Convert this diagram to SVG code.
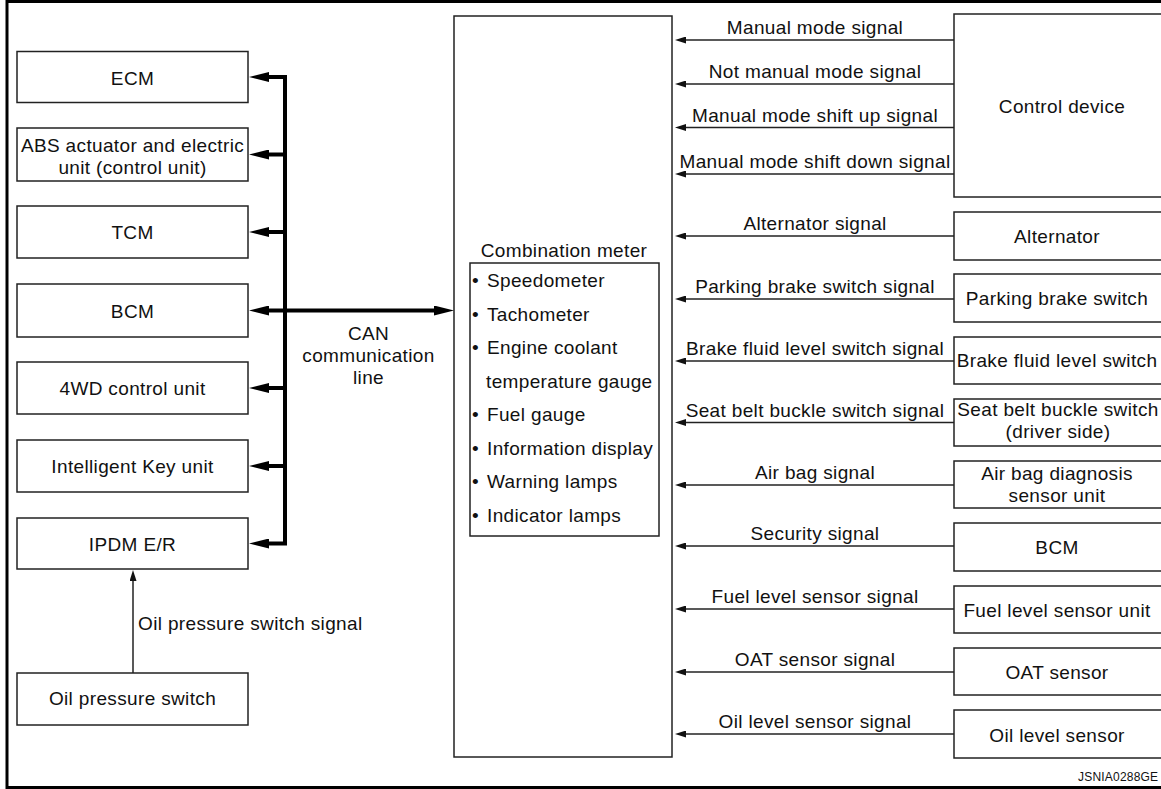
<svg xmlns="http://www.w3.org/2000/svg" width="1161" height="789" viewBox="0 0 1161 789">
<style>
text{font-family:"Liberation Sans",Arial,sans-serif;font-size:19px;letter-spacing:0.35px;fill:#111}
.c{text-anchor:middle}
.box{fill:#fff;stroke:#222;stroke-width:1.5}
.bus{fill:none;stroke:#000;stroke-width:4}
.sig{fill:none;stroke:#222;stroke-width:1.5}
.tag{font-size:12px;letter-spacing:0.2px}
</style>
<defs>
<marker id="big" viewBox="0 0 20 10" refX="2" refY="5" markerWidth="20" markerHeight="10" markerUnits="userSpaceOnUse" orient="auto-start-reverse">
<path d="M0,0 L20,5 L0,10 z" fill="#000"/>
</marker>
<marker id="small" viewBox="0 0 11 7" refX="1" refY="3.5" markerWidth="11" markerHeight="7" markerUnits="userSpaceOnUse" orient="auto">
<path d="M0,0 L11,3.5 L0,7 z" fill="#111"/>
</marker>
</defs>
<rect x="7" y="1.5" width="1165" height="786" fill="#fff" stroke="#000" stroke-width="3"/>

<g id="ecm"><rect class="box" x="17" y="51.5" width="231" height="51"/><text class="c" x="132.5" y="84.5">ECM</text></g>
<g id="abs"><rect class="box" x="17" y="128" width="231" height="53"/><text class="c" x="132.5" y="151.5">ABS actuator and electric</text><text class="c" x="132.5" y="174">unit (control unit)</text></g>
<g id="tcm"><rect class="box" x="17" y="206" width="231" height="52"/><text class="c" x="132.5" y="239">TCM</text></g>
<g id="bcm-left"><rect class="box" x="17" y="284" width="231" height="53"/><text class="c" x="132.5" y="317.5">BCM</text></g>
<g id="4wd"><rect class="box" x="17" y="362" width="231" height="52"/><text class="c" x="132.5" y="395">4WD control unit</text></g>
<g id="ikey"><rect class="box" x="17" y="440" width="231" height="52"/><text class="c" x="132.5" y="473">Intelligent Key unit</text></g>
<g id="ipdm"><rect class="box" x="17" y="518" width="231" height="51"/><text class="c" x="132.5" y="550.5">IPDM E/R</text></g>
<g id="oil-pressure-switch"><rect class="box" x="17" y="673" width="231" height="52"/><text class="c" x="132.5" y="705">Oil pressure switch</text></g>

<g id="combination-meter">
<rect class="box" x="454" y="16" width="218" height="741"/>
<text class="c" x="564" y="256.5">Combination meter</text>
<rect class="box" x="470" y="263" width="189" height="273"/>
<text x="472" y="287">•</text><text x="487" y="287">Speedometer</text>
<text x="472" y="320.5">•</text><text x="487" y="320.5">Tachometer</text>
<text x="472" y="354">•</text><text x="487" y="354">Engine coolant</text>
<text x="486" y="387.5">temperature gauge</text>
<text x="472" y="421">•</text><text x="487" y="421">Fuel gauge</text>
<text x="472" y="454.5">•</text><text x="487" y="454.5">Information display</text>
<text x="472" y="488">•</text><text x="487" y="488">Warning lamps</text>
<text x="472" y="521.5">•</text><text x="487" y="521.5">Indicator lamps</text>
</g>

<g id="control-device"><rect class="box" x="954" y="14" width="220" height="183"/><text class="c" x="1062" y="112.5">Control device</text></g>
<g id="alternator"><rect class="box" x="954" y="212" width="220" height="48"/><text class="c" x="1057" y="242.5">Alternator</text></g>
<g id="parking-brake-switch"><rect class="box" x="954" y="274" width="220" height="48"/><text class="c" x="1057" y="305">Parking brake switch</text></g>
<g id="brake-fluid-level-switch"><rect class="box" x="954" y="337" width="220" height="47"/><text class="c" x="1057" y="366.5">Brake fluid level switch</text></g>
<g id="seat-belt-buckle-switch"><rect class="box" x="954" y="399" width="220" height="47"/><text class="c" x="1058" y="415.5">Seat belt buckle switch</text><text class="c" x="1058" y="437.5">(driver side)</text></g>
<g id="air-bag"><rect class="box" x="954" y="461" width="220" height="47"/><text class="c" x="1057" y="479.5">Air bag diagnosis</text><text class="c" x="1057" y="501.5">sensor unit</text></g>
<g id="bcm-right"><rect class="box" x="954" y="523" width="220" height="48"/><text class="c" x="1057" y="553.5">BCM</text></g>
<g id="fuel-level-sensor-unit"><rect class="box" x="954" y="586" width="220" height="47"/><text class="c" x="1057" y="616.5">Fuel level sensor unit</text></g>
<g id="oat-sensor"><rect class="box" x="954" y="648" width="220" height="47"/><text class="c" x="1057" y="679">OAT sensor</text></g>
<g id="oil-level-sensor"><rect class="box" x="954" y="710" width="220" height="48"/><text class="c" x="1057" y="741.5">Oil level sensor</text></g>

<g id="connectors">
<path class="bus" d="M267,77 H285 V543.5 H267" stroke-linejoin="miter" marker-start="url(#big)" marker-end="url(#big)"/>
<line class="bus" x1="285" y1="154.5" x2="267" y2="154.5" marker-end="url(#big)"/>
<line class="bus" x1="285" y1="232" x2="267" y2="232" marker-end="url(#big)"/>
<line class="bus" x1="267" y1="310.5" x2="436" y2="310.5" marker-start="url(#big)" marker-end="url(#big)"/>
<line class="bus" x1="285" y1="388" x2="267" y2="388" marker-end="url(#big)"/>
<line class="bus" x1="285" y1="466" x2="267" y2="466" marker-end="url(#big)"/>
<text class="c" x="368.5" y="340">CAN</text>
<text class="c" x="368.5" y="362">communication</text>
<text class="c" x="368.5" y="384">line</text>

<line class="sig" x1="133" y1="673" x2="133" y2="580" marker-end="url(#small)"/>
<text x="138" y="630">Oil pressure switch signal</text>

<line class="sig" x1="954" y1="40" x2="685" y2="40" marker-end="url(#small)"/>
<text class="c" x="815" y="34">Manual mode signal</text>
<line class="sig" x1="954" y1="84" x2="685" y2="84" marker-end="url(#small)"/>
<text class="c" x="815" y="78">Not manual mode signal</text>
<line class="sig" x1="954" y1="127.5" x2="685" y2="127.5" marker-end="url(#small)"/>
<text class="c" x="815" y="121.5">Manual mode shift up signal</text>
<line class="sig" x1="954" y1="174" x2="685" y2="174" marker-end="url(#small)"/>
<text class="c" x="815" y="168">Manual mode shift down signal</text>
<line class="sig" x1="954" y1="236" x2="685" y2="236" marker-end="url(#small)"/>
<text class="c" x="815" y="230">Alternator signal</text>
<line class="sig" x1="954" y1="299" x2="685" y2="299" marker-end="url(#small)"/>
<text class="c" x="815" y="293">Parking brake switch signal</text>
<line class="sig" x1="954" y1="361" x2="685" y2="361" marker-end="url(#small)"/>
<text class="c" x="815" y="355">Brake fluid level switch signal</text>
<line class="sig" x1="954" y1="422.5" x2="685" y2="422.5" marker-end="url(#small)"/>
<text class="c" x="815" y="416.5">Seat belt buckle switch signal</text>
<line class="sig" x1="954" y1="485" x2="685" y2="485" marker-end="url(#small)"/>
<text class="c" x="815" y="479">Air bag signal</text>
<line class="sig" x1="954" y1="546" x2="685" y2="546" marker-end="url(#small)"/>
<text class="c" x="815" y="540">Security signal</text>
<line class="sig" x1="954" y1="609" x2="685" y2="609" marker-end="url(#small)"/>
<text class="c" x="815" y="603">Fuel level sensor signal</text>
<line class="sig" x1="954" y1="672" x2="685" y2="672" marker-end="url(#small)"/>
<text class="c" x="815" y="666">OAT sensor signal</text>
<line class="sig" x1="954" y1="734" x2="685" y2="734" marker-end="url(#small)"/>
<text class="c" x="815" y="728">Oil level sensor signal</text>
</g>

<text class="tag" x="1078" y="781">JSNIA0288GE</text>
</svg>
